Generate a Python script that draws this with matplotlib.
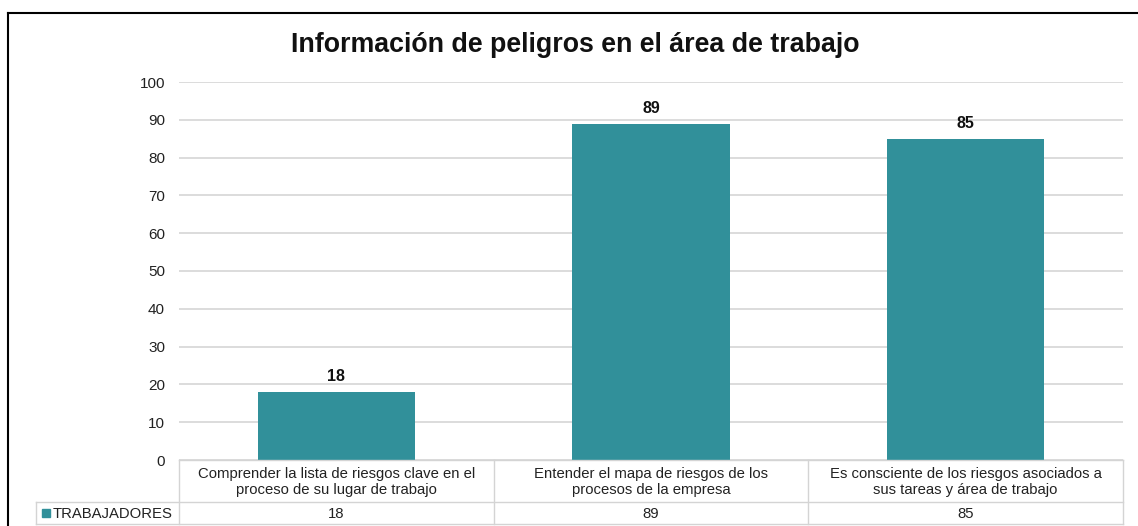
import matplotlib
matplotlib.use("Agg")
import matplotlib.pyplot as plt
from matplotlib.lines import Line2D
from matplotlib.patches import Rectangle

plt.rcParams['font.family'] = ['Liberation Sans', 'DejaVu Sans']

title = "Información de peligros en el área de trabajo"
categories = [
    "Comprender la lista de riesgos clave en el\nproceso de su lugar de trabajo",
    "Entender el mapa de riesgos de los\nprocesos de la empresa",
    "Es consciente de los riesgos asociados a\nsus tareas y área de trabajo",
]
series_name = "TRABAJADORES"
values = [18, 89, 85]
yticks = [0, 10, 20, 30, 40, 50, 60, 70, 80, 90, 100]

W, H = 1138, 526
fig = plt.figure(figsize=(W / 100, H / 100), dpi=100)

def fx(px):
    return px / W

def fy(py):
    return 1 - py / H

x0, x1, ytop, ybot = 179, 1123, 82, 460
ax = fig.add_axes([fx(x0), fy(ybot), fx(x1) - fx(x0), fy(ytop) - fy(ybot)])
color = "#31909A"
xs = list(range(len(values)))
ax.bar(xs, values, width=0.5, color=color, zorder=3)
ax.set_xlim(-0.5, len(values) - 0.5)
ax.set_ylim(0, 100)
ax.set_yticks(yticks)
ax.set_yticklabels([str(t) for t in yticks], fontsize=11, color="#222222")
ax.tick_params(axis='y', length=0, pad=10)
ax.set_xticks([])
for s in ax.spines.values():
    s.set_visible(False)
ax.grid(axis='y', color="#d9d9d9", linewidth=1.3, zorder=0)
ax.set_axisbelow(True)

for x, v in zip(xs, values):
    ax.text(x, v + 2.0, str(v), ha='center', va='bottom', fontsize=11.5,
            fontweight='bold', color="#111111")

# Title
fig.text(fx(575), fy(45), title, ha='center', va='center', fontsize=19.3,
         fontweight='bold', color="#111111")

# Outer border
fig.add_artist(Line2D([fx(8), fx(8)], [fy(13), fy(H + 5)], color='black', lw=1.5))
fig.add_artist(Line2D([fx(8), fx(W + 5)], [fy(13), fy(13)], color='black', lw=1.5))

# Data table
tc = "#d4d4d4"
row1_top, row_sep, row2_bot = 460, 502, 524
left_cell = 36
cw = (x1 - x0) / len(values)
def L(xa, ya, xb, yb):
    fig.add_artist(Line2D([fx(xa), fx(xb)], [fy(ya), fy(yb)], color=tc, lw=1.0))

L(x0, row1_top, x1, row1_top)
L(left_cell, row_sep, x1, row_sep)
L(left_cell, row2_bot, x1, row2_bot)
L(left_cell, row_sep, left_cell, row2_bot)
for i in range(len(values) + 1):
    xp = x0 + i * cw
    L(xp, row1_top, xp, row2_bot)

for i, (c, v) in enumerate(zip(categories, values)):
    cx = x0 + (i + 0.5) * cw
    fig.text(fx(cx), fy((row1_top + row_sep) / 2 + 1), c, ha='center', va='center',
             fontsize=10.7, color="#222222", linespacing=1.1)
    fig.text(fx(cx), fy((row_sep + row2_bot) / 2 + 1), str(v), ha='center', va='center',
             fontsize=10.7, color="#222222")

fig.add_artist(Rectangle((fx(42), fy(517)), fx(8), fy(509) - fy(517), color=color,
                         transform=fig.transFigure))
fig.text(fx(53), fy((row_sep + row2_bot) / 2 + 1), series_name, ha='left', va='center',
         fontsize=10.7, color="#222222")

fig.savefig("out.png", dpi=100)
